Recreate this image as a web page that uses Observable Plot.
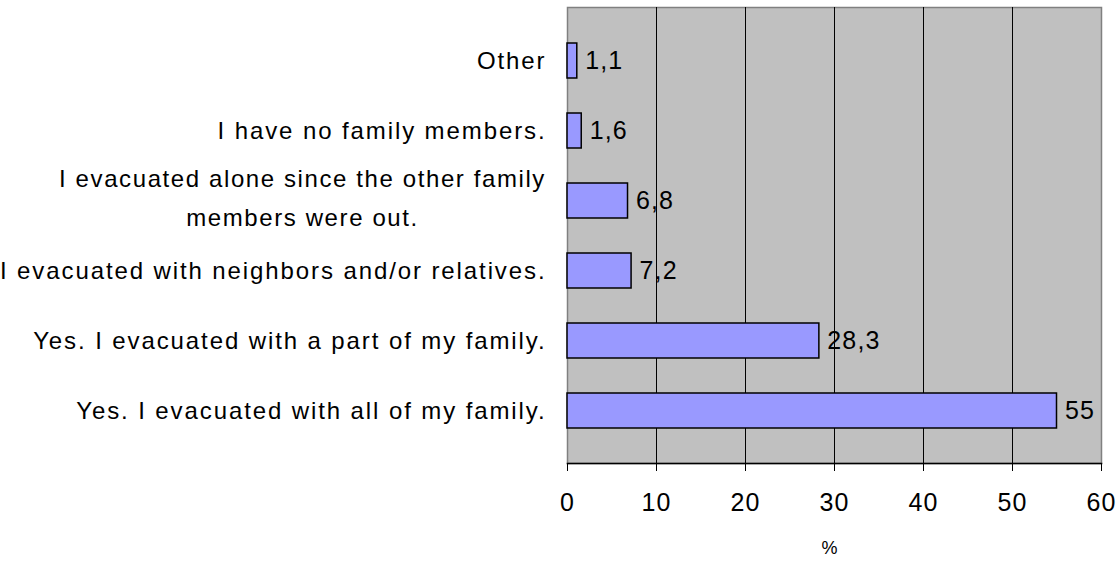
<!DOCTYPE html>
<html>
<head>
<meta charset="utf-8">
<script src="https://cdn.jsdelivr.net/npm/d3@7"></script>
<script src="https://cdn.jsdelivr.net/npm/@observablehq/plot@0.6"></script>
<style>
  html, body { margin: 0; padding: 0; background: #fff; }
  svg { display: block; }
</style>
</head>
<body>
<div id="chart"></div>
<script>
const categories = [
  "Other",
  "I have no family members.",
  "I evacuated alone since the other family\nmembers were out.",
  "I evacuated with neighbors and/or relatives.",
  "Yes. I evacuated with a part of my family.",
  "Yes. I evacuated with all of my family."
];
const values = [1.1, 1.6, 6.8, 7.2, 28.3, 55];
const xTicks = [0, 10, 20, 30, 40, 50, 60];
const gridTicks = [10, 20, 30, 40, 50];
const xLabel = "%";

const data = categories.map((c, i) => ({label: c, value: values[i]}));
const wrapped = data.filter(d => d.label.includes("\n"));
const fmt = v => String(v).replace(".", ",");

const font = "Liberation Sans, Arial, sans-serif";

const chart = Plot.plot({
  width: 1120,
  height: 561,
  marginLeft: 567,
  marginRight: 19,
  marginTop: 7,
  marginBottom: 98,
  style: {fontFamily: font, fontSize: "24px", color: "#000", background: "#fff"},
  x: {domain: [0, 60], label: null},
  y: {domain: categories, padding: 0.5, label: null},
  marks: [
    Plot.frame({fill: "#c0c0c0", stroke: "#808080", strokeWidth: 1.5}),
    Plot.ruleX(gridTicks, {stroke: "#000", strokeWidth: 1}),
    Plot.frame({anchor: "bottom", stroke: "#000", strokeWidth: 1.5}),
    Plot.barX(data, {x: "value", y: "label", fill: "#9999ff", stroke: "#000", strokeWidth: 1.5}),
    Plot.text(data, {x: "value", y: "label", text: d => fmt(d.value), dx: 8, textAnchor: "start", fontSize: 25, fill: "#000", className: "num"}),
    Plot.axisX({ticks: xTicks, tickSize: 8, tickPadding: 22, fontSize: 25, tickFormat: d => String(d), label: null, className: "num"}),
    Plot.axisY({tickSize: 0, tickPadding: 21, fontSize: 24, tickFormat: d => d.includes("\n") ? "" : d, label: null, className: "cat"}),
    Plot.text(wrapped, {y: "label", text: "label", frameAnchor: "left", textAnchor: "middle", dx: -265, dy: -7, lineHeight: 1.62, fontSize: 24, fill: "#000", className: "wrap"}),
    Plot.text([xLabel], {text: d => d, frameAnchor: "bottom", dx: -5, dy: 90, fontSize: 18, fill: "#000"})
  ]
});

d3.select(chart).selectAll(".cat text").style("letter-spacing", "1.9px");
d3.select(chart).selectAll(".wrap text").style("letter-spacing", "1.6px");
d3.select(chart).selectAll(".num text").style("letter-spacing", "1.1px");
document.getElementById("chart").appendChild(chart);
</script>
</body>
</html>
